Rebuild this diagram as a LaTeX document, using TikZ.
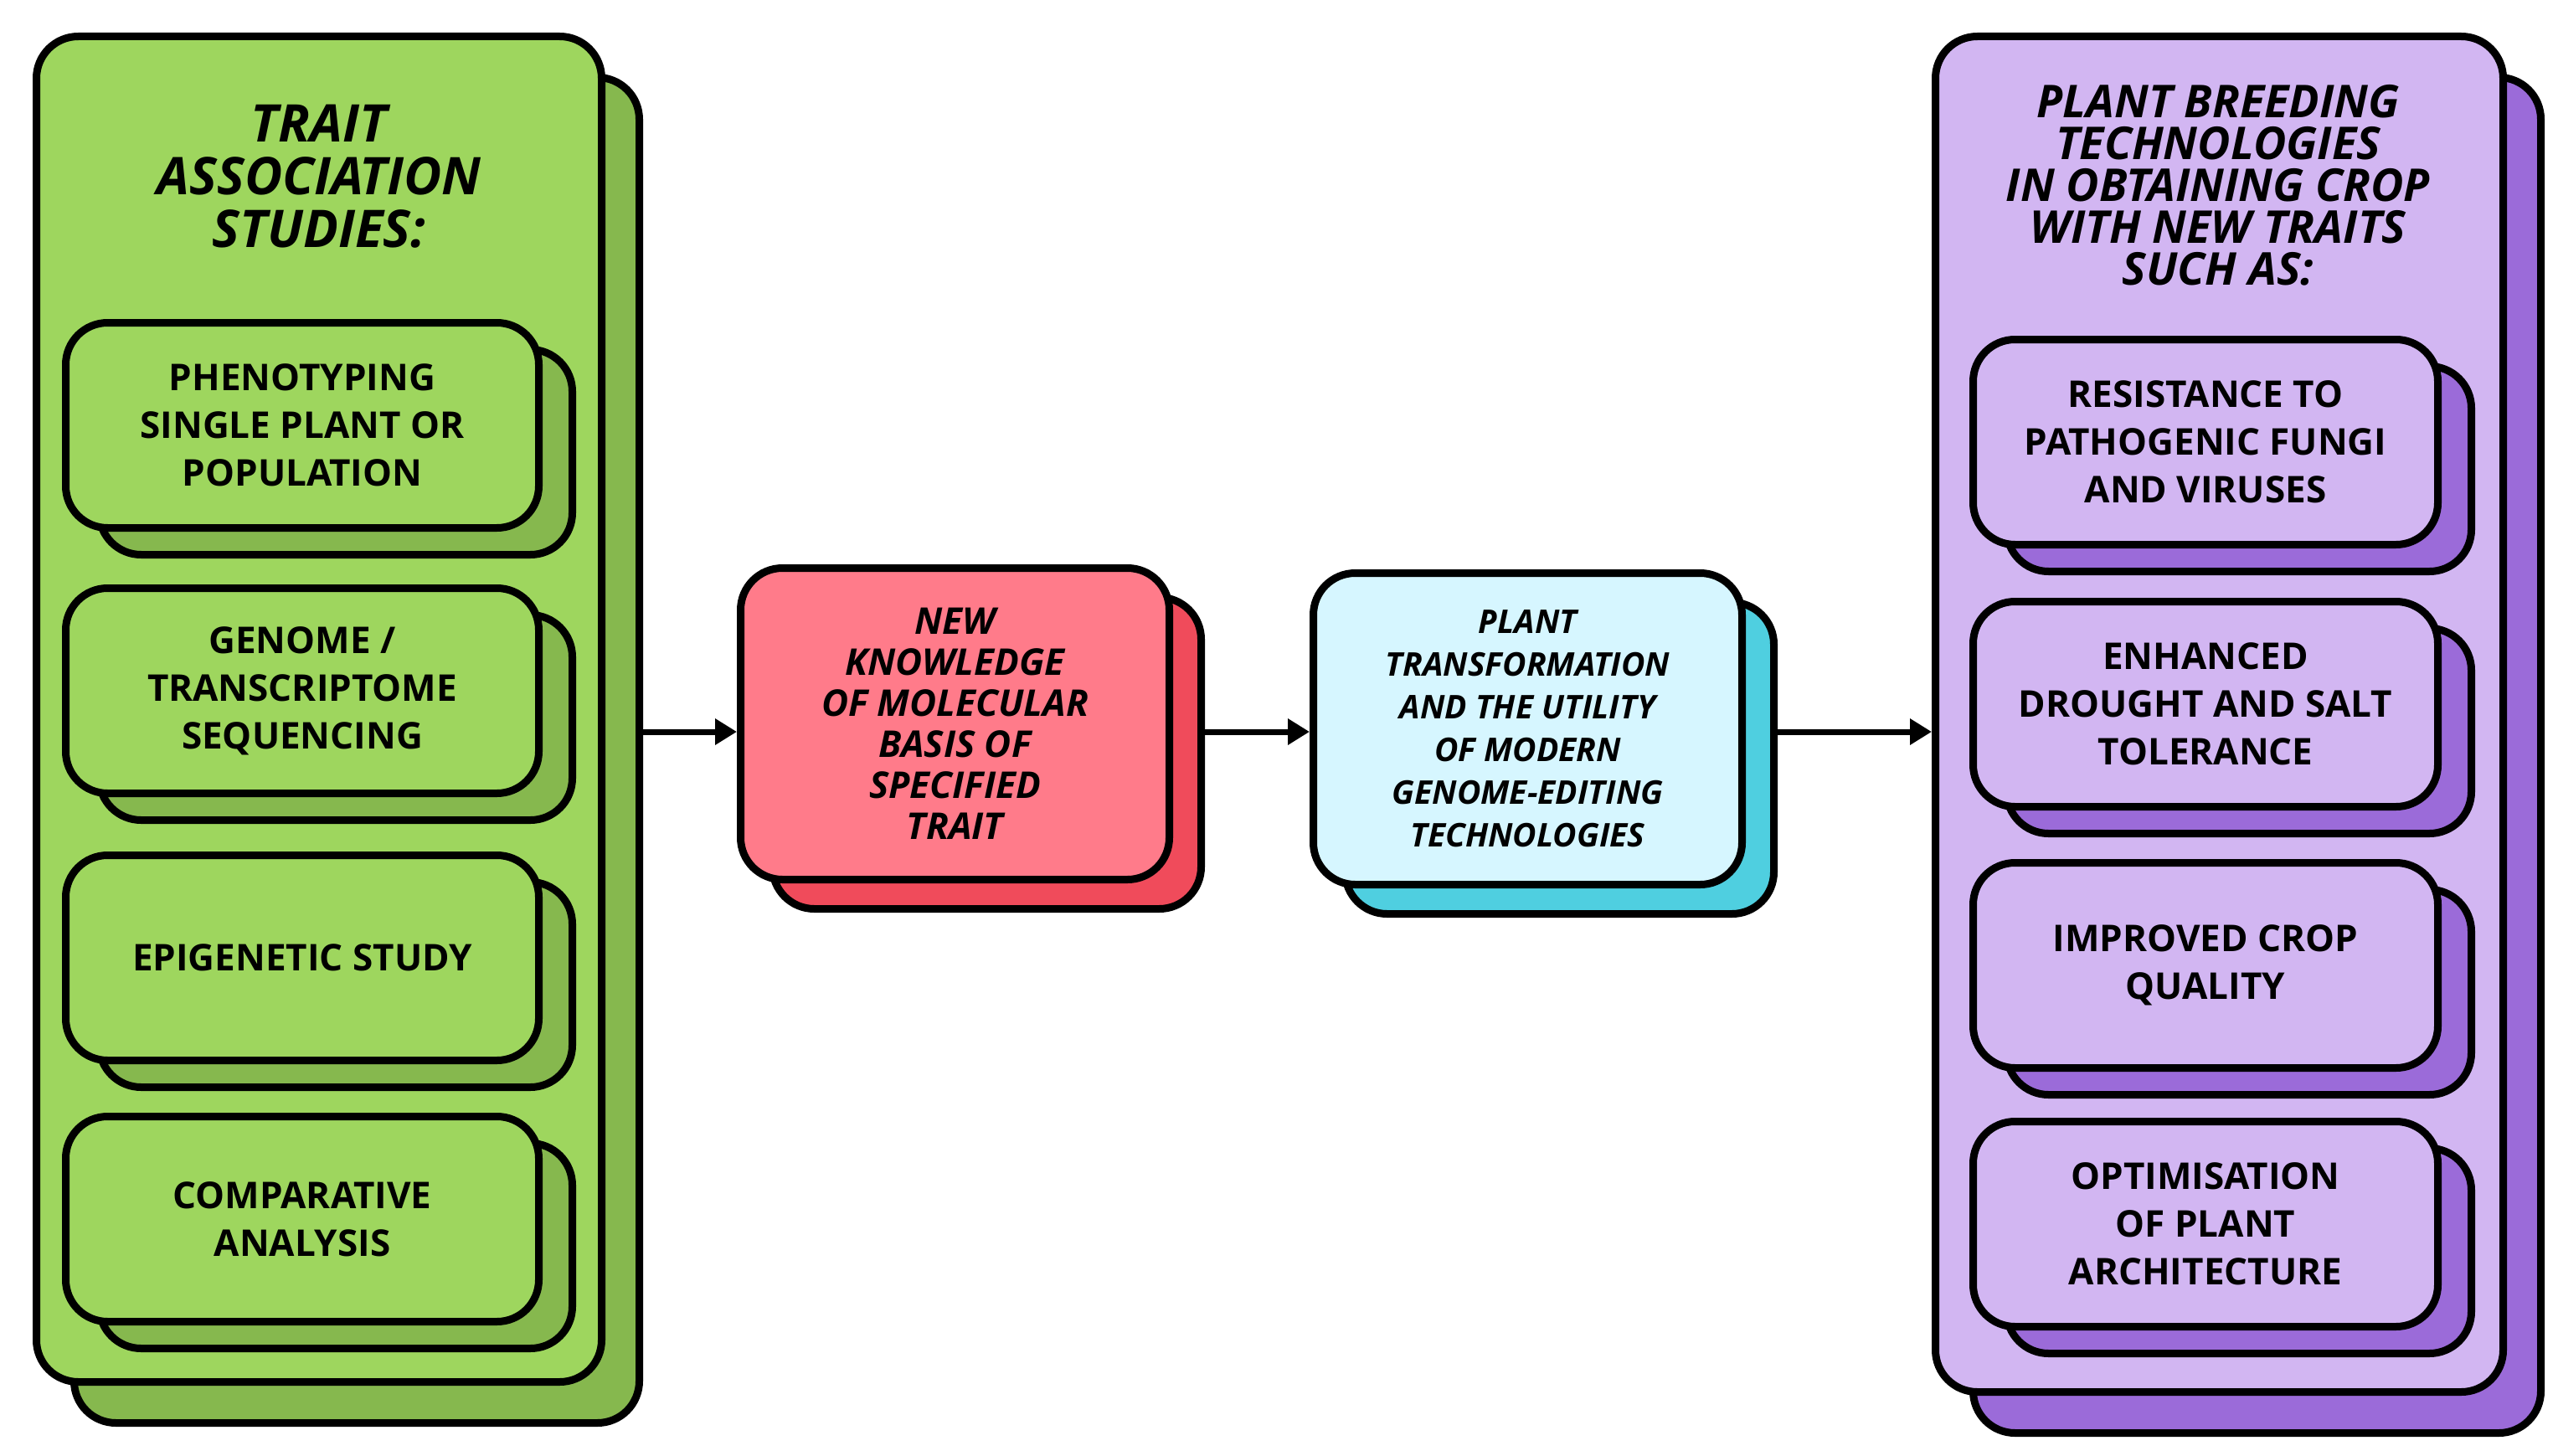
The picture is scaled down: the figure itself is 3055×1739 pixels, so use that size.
\documentclass[tikz,border=0pt]{standalone}
\usepackage{fontspec}
\setmainfont{Open Sans}
\usetikzlibrary{arrows.meta}
\definecolor{gF}{HTML}{9ED65E}\definecolor{gB}{HTML}{86B84E}
\definecolor{rF}{HTML}{FF7B8A}\definecolor{rB}{HTML}{F04B5B}
\definecolor{bF}{HTML}{D6F6FF}\definecolor{bB}{HTML}{4FCFE0}
\definecolor{pF}{HTML}{D2B6F2}\definecolor{pB}{HTML}{9B6BD9}
\tikzset{
 box/.style={draw=black, line width=9pt, rounded corners=50pt, inner sep=0pt, anchor=north west},
 lbl/.style={align=center, font=\fontsize{44}{57}\selectfont\bfseries},
 ttl/.style={align=center, font=\fontsize{62}{63}\selectfont\bfseries\itshape},
 mid/.style={align=center, font=\fontsize{44}{49}\selectfont\bfseries\itshape},
 arr/.style={line width=7pt, -{Triangle[length=26pt,width=30pt]}},
}
\newcommand\dbox[9]{% name x y w h front back dx dy
 \node[box, fill=#7, minimum width=#4pt, minimum height=#5pt] (#1b) at (#2+#8,#3+#9) {};
 \node[box, fill=#6, minimum width=#4pt, minimum height=#5pt] (#1) at (#2,#3) {};}
\begin{document}
\begin{tikzpicture}[x=1pt,y=-1pt]
\useasboundingbox (0,0) rectangle (3055,1739);
% left
\dbox{L}{39}{39}{675}{1607}{gF}{gB}{45}{49}
\node[ttl] (Lt) at (381,211) {TRAIT\\ASSOCIATION\\STUDIES:};
\dbox{L1}{74}{381}{565}{245}{gF}{gB}{40}{32}
\dbox{L2}{74}{698}{565}{245}{gF}{gB}{40}{32}
\dbox{L3}{74}{1017}{565}{245}{gF}{gB}{40}{32}
\dbox{L4}{74}{1329}{565}{245}{gF}{gB}{40}{32}
\node[lbl] at (L1.center) {PHENOTYPING\\SINGLE PLANT OR\\POPULATION};
\node[lbl] at (L2.center) {GENOME /\\TRANSCRIPTOME\\SEQUENCING};
\node[lbl] at (L3.center) {EPIGENETIC STUDY};
\node[lbl] at (L4.center) {COMPARATIVE\\ANALYSIS};
% middle
\dbox{R}{880}{674}{512}{372}{rF}{rB}{38}{35}
\node[mid] at (R.center) {NEW\\KNOWLEDGE\\OF MOLECULAR\\BASIS OF\\SPECIFIED\\TRAIT};
\dbox{B}{1564}{680}{512}{372}{bF}{bB}{38}{35}
\node[mid, font=\fontsize{39}{51}\selectfont\bfseries\itshape] at (B.center) {PLANT\\TRANSFORMATION\\AND THE UTILITY\\OF MODERN\\GENOME-EDITING\\TECHNOLOGIES};
% right
\dbox{P}{2307}{39}{678}{1619}{pF}{pB}{45}{49}
\node[ttl, font=\fontsize{54}{50}\selectfont\bfseries\itshape] (Pt) at (2649,221) {PLANT BREEDING\\TECHNOLOGIES\\IN OBTAINING CROP\\WITH NEW TRAITS\\SUCH AS:};
\dbox{P1}{2352}{401}{555}{245}{pF}{pB}{40}{32}
\dbox{P2}{2352}{714}{555}{245}{pF}{pB}{40}{32}
\dbox{P3}{2352}{1026}{555}{245}{pF}{pB}{40}{32}
\dbox{P4}{2352}{1335}{555}{245}{pF}{pB}{40}{32}
\node[lbl] at (P1.center) {RESISTANCE TO\\PATHOGENIC FUNGI\\AND VIRUSES};
\node[lbl] at (P2.center) {ENHANCED\\DROUGHT AND SALT\\TOLERANCE};
\node[lbl] at (P3.center) {IMPROVED CROP\\QUALITY};
\node[lbl] at (P4.center) {OPTIMISATION\\OF PLANT\\ARCHITECTURE};
% arrows
\draw[arr] (Lb.east |- 0,874) -- (R.west |- 0,874);
\draw[arr] (Rb.east |- 0,874) -- (B.west |- 0,874);
\draw[arr] (Bb.east |- 0,874) -- (P.west |- 0,874);
\end{tikzpicture}
\end{document}
